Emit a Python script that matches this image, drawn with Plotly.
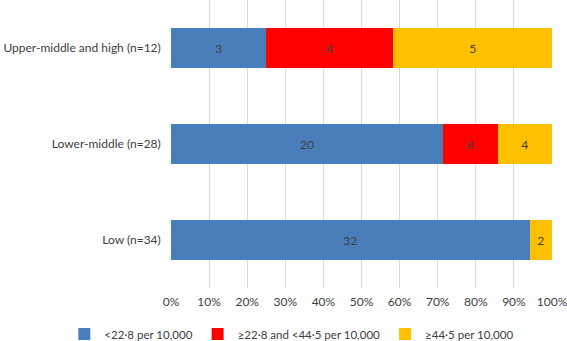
import plotly.graph_objects as go

categories = ["Low (n=34)", "Lower-middle (n=28)", "Upper-middle and high (n=12)"]
series_names = ["<22·8 per 10,000", "≥22·8 and <44·5 per 10,000", "≥44·5 per 10,000"]
low_vals = [32, 20, 3]
mid_vals = [0, 4, 4]
high_vals = [2, 4, 5]
colors = ["#4a7ebb", "#ff0000", "#ffc000"]
tick_vals = [0, 10, 20, 30, 40, 50, 60, 70, 80, 90, 100]
tick_text = [f"{v}%" for v in tick_vals]

FONT = "Lato, Liberation Sans, sans-serif"

fig = go.Figure()
for name, vals, col in zip(series_names, [low_vals, mid_vals, high_vals], colors):
    fig.add_trace(go.Bar(
        y=categories, x=vals, name=name, orientation="h",
        marker=dict(color=col, line=dict(width=0)),
        text=[str(v) if v else "" for v in vals],
        textposition="inside", insidetextanchor="middle",
        textfont=dict(color="#404040", size=12, family=FONT),
        constraintext="none",
    ))

fig.update_layout(
    width=567, height=341,
    barmode="stack", barnorm="percent", bargap=0.58,
    margin=dict(l=171, r=15, t=0, b=53, autoexpand=False),
    paper_bgcolor="white", plot_bgcolor="white",
    font=dict(family=FONT, size=12, color="#404040"),
    showlegend=True,
    legend=dict(orientation="h", x=-0.28, xanchor="left",
                y=-0.16, yanchor="middle", bgcolor="rgba(0,0,0,0)",
                font=dict(size=11.5, color="#404040", family=FONT), traceorder="normal",
                itemwidth=30, tracegroupgap=0),
    uniformtext=dict(minsize=8, mode="show"),
)
fig.update_xaxes(range=[0, 100], tickvals=tick_vals, ticktext=tick_text,
                 showgrid=True, gridcolor="#d9d9d9", gridwidth=1,
                 zeroline=False, showline=False, ticks="", automargin=False,
                 ticklabeloverflow="allow", ticklabelstandoff=5,
                 tickfont=dict(size=12, color="#404040", family=FONT))
fig.update_yaxes(showgrid=False, zeroline=False, showline=False, ticks="",
                 ticksuffix="   ", automargin=False,
                 tickfont=dict(size=12, color="#404040", family=FONT))

fig.write_html("out.html", config={"displayModeBar": False},
               post_script="document.body.style.margin='0px';")
